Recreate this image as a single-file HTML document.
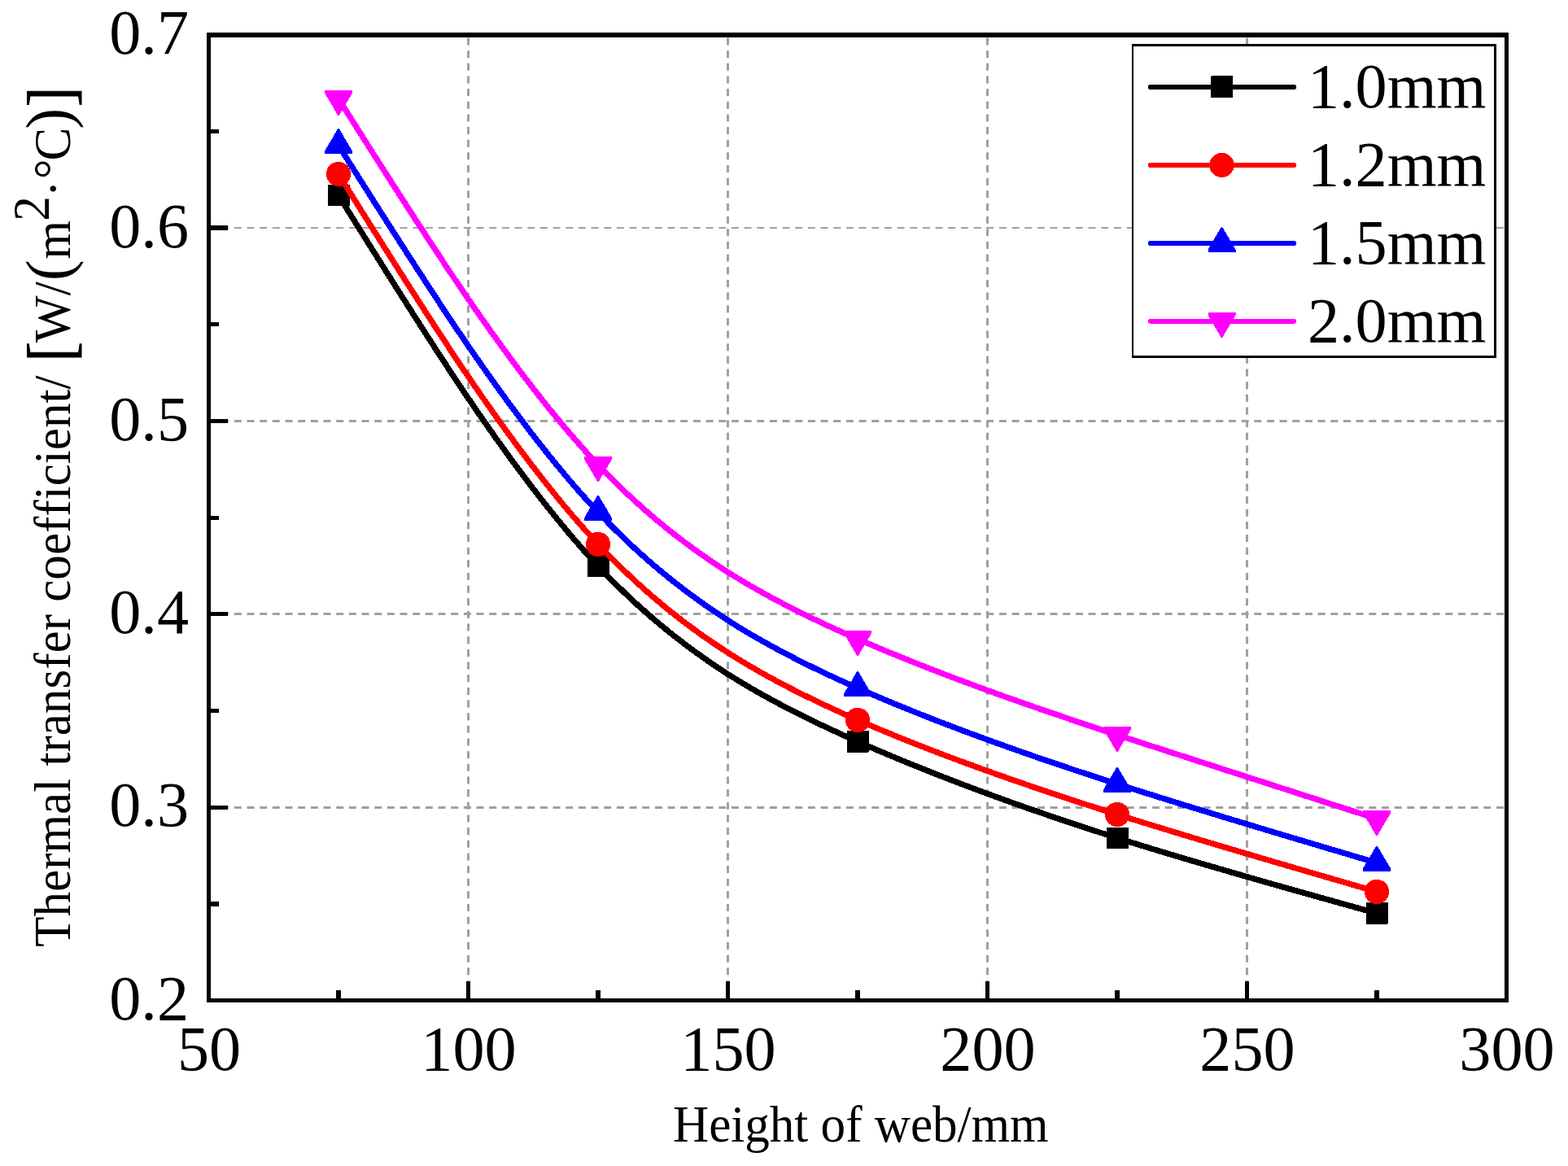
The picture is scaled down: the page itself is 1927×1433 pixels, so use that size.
<!DOCTYPE html>
<html lang="en"><head><meta charset="utf-8"><title>Thermal transfer coefficient vs height of web</title>
<style>
html,body{margin:0;padding:0;background:#fff;}
body{width:1927px;height:1433px;overflow:hidden;}
svg{display:block;}
text{font-family:"Liberation Serif","DejaVu Serif",serif;fill:#000;font-variant-ligatures:none;font-kerning:none;}
.tick{font-size:78.2px;}
.ttl{font-size:61.1px;}
.big{font-size:80px;}
.par{font-size:77.8px;}
</style></head><body>
<svg width="1927" height="1433" viewBox="0 0 1927 1433">
<rect width="1927" height="1433" fill="#fff"/>
<g stroke="#a0a0a0" fill="none">
<line x1="575.5" y1="1229.6" x2="575.5" y2="43.0" stroke-width="3" stroke-dasharray="9 6.655"/>
<line x1="894.5" y1="1229.6" x2="894.5" y2="43.0" stroke-width="3" stroke-dasharray="9 6.655"/>
<line x1="1213.5" y1="1229.6" x2="1213.5" y2="43.0" stroke-width="3" stroke-dasharray="9 6.655"/>
<line x1="1532.5" y1="1229.6" x2="1532.5" y2="43.0" stroke-width="3" stroke-dasharray="9 6.655"/>
<line x1="256.5" y1="992.5" x2="1851.5" y2="992.5" stroke-width="3" stroke-dasharray="9 6.668"/>
<line x1="256.5" y1="754.5" x2="1851.5" y2="754.5" stroke-width="3" stroke-dasharray="9 6.668"/>
<line x1="256.5" y1="517.5" x2="1851.5" y2="517.5" stroke-width="3" stroke-dasharray="9 6.668"/>
<line x1="256.5" y1="280" x2="1851.5" y2="280" stroke-width="2" stroke-dasharray="9 6.668"/>
</g>
<g fill="#000" shape-rendering="crispEdges">
<rect x="254" y="40" width="1600" height="6"/>
<rect x="254" y="1227" width="1600" height="5"/>
<rect x="254" y="40" width="5" height="1192"/>
<rect x="1849" y="40" width="5" height="1192"/>
<rect x="413" y="1217" width="6" height="10"/>
<rect x="573" y="1206" width="5" height="21"/>
<rect x="732" y="1217" width="6" height="10"/>
<rect x="892" y="1206" width="5" height="21"/>
<rect x="1051" y="1217" width="6" height="10"/>
<rect x="1211" y="1206" width="5" height="21"/>
<rect x="1370" y="1217" width="6" height="10"/>
<rect x="1530" y="1206" width="5" height="21"/>
<rect x="1689" y="1217" width="6" height="10"/>
<rect x="259" y="1108" width="10" height="6"/>
<rect x="259" y="990" width="21" height="5"/>
<rect x="259" y="871" width="10" height="5"/>
<rect x="259" y="752" width="21" height="5"/>
<rect x="259" y="634" width="10" height="5"/>
<rect x="259" y="515" width="21" height="5"/>
<rect x="259" y="396" width="10" height="5"/>
<rect x="259" y="277" width="21" height="6"/>
<rect x="259" y="159" width="10" height="5"/>
</g>
<path d="M416 240C522.33 411.17 628.67 582.34 735 695.7C841.33 809.06 947.67 864.62 1054 911.4C1160.33 958.18 1266.67 996.2 1373 1029.9C1479.33 1063.6 1585.67 1093 1692 1122.4" fill="none" stroke="#000000" stroke-width="7.2" stroke-linecap="round" stroke-linejoin="round" shape-rendering="crispEdges"/>
<rect x="402.75" y="226.75" width="27" height="26.5" rx="1" fill="#000000" shape-rendering="crispEdges"/>
<rect x="721.75" y="682.45" width="27" height="26.5" rx="1" fill="#000000" shape-rendering="crispEdges"/>
<rect x="1040.75" y="898.15" width="27" height="26.5" rx="1" fill="#000000" shape-rendering="crispEdges"/>
<rect x="1359.75" y="1016.65" width="27" height="26.5" rx="1" fill="#000000" shape-rendering="crispEdges"/>
<rect x="1678.75" y="1109.15" width="27" height="26.5" rx="1" fill="#000000" shape-rendering="crispEdges"/>
<path d="M416 214C522.33 384.71 628.67 555.42 735 668.9C841.33 782.38 947.67 838.62 1054 884.9C1160.33 931.18 1266.67 967.49 1373 1001C1479.33 1034.51 1585.67 1065.2 1692 1095.9" fill="none" stroke="#ff0000" stroke-width="7.2" stroke-linecap="round" stroke-linejoin="round" shape-rendering="crispEdges"/>
<circle cx="416" cy="214" r="15.1" fill="#ff0000" shape-rendering="crispEdges"/>
<circle cx="735" cy="668.9" r="15.1" fill="#ff0000" shape-rendering="crispEdges"/>
<circle cx="1054" cy="884.9" r="15.1" fill="#ff0000" shape-rendering="crispEdges"/>
<circle cx="1373" cy="1001" r="15.1" fill="#ff0000" shape-rendering="crispEdges"/>
<circle cx="1692" cy="1095.9" r="15.1" fill="#ff0000" shape-rendering="crispEdges"/>
<path d="M416 178.67C522.33 347.68 628.67 516.68 735 629.5C841.33 742.32 947.67 798.94 1054 845.7C1160.33 892.46 1266.67 929.36 1373 963.5C1479.33 997.64 1585.67 1029.02 1692 1060.4" fill="none" stroke="#0000ff" stroke-width="7.2" stroke-linecap="round" stroke-linejoin="round" shape-rendering="crispEdges"/>
<polygon points="399,189 433,189 433,185.6 416.7,158 415.3,158 399,185.6" fill="#0000ff" shape-rendering="crispEdges"/>
<polygon points="718,639.83 752,639.83 752,636.43 735.7,608.83 734.3,608.83 718,636.43" fill="#0000ff" shape-rendering="crispEdges"/>
<polygon points="1037,856.03 1071,856.03 1071,852.63 1054.7,825.03 1053.3,825.03 1037,852.63" fill="#0000ff" shape-rendering="crispEdges"/>
<polygon points="1356,973.83 1390,973.83 1390,970.43 1373.7,942.83 1372.3,942.83 1356,970.43" fill="#0000ff" shape-rendering="crispEdges"/>
<polygon points="1675,1070.73 1709,1070.73 1709,1067.33 1692.7,1039.73 1691.3,1039.73 1675,1067.33" fill="#0000ff" shape-rendering="crispEdges"/>
<path d="M416 121.33C522.33 290.18 628.67 459.03 735 571.3C841.33 683.57 947.67 739.27 1054 785.4C1160.33 831.53 1266.67 868.08 1373 903.3C1479.33 938.52 1585.67 972.41 1692 1006.3" fill="none" stroke="#ff00ff" stroke-width="7.2" stroke-linecap="round" stroke-linejoin="round" shape-rendering="crispEdges"/>
<polygon points="399,111 433,111 433,114.4 416.7,142 415.3,142 399,114.4" fill="#ff00ff" shape-rendering="crispEdges"/>
<polygon points="718,560.97 752,560.97 752,564.37 735.7,591.97 734.3,591.97 718,564.37" fill="#ff00ff" shape-rendering="crispEdges"/>
<polygon points="1037,775.07 1071,775.07 1071,778.47 1054.7,806.07 1053.3,806.07 1037,778.47" fill="#ff00ff" shape-rendering="crispEdges"/>
<polygon points="1356,892.97 1390,892.97 1390,896.37 1373.7,923.97 1372.3,923.97 1356,896.37" fill="#ff00ff" shape-rendering="crispEdges"/>
<polygon points="1675,995.97 1709,995.97 1709,999.37 1692.7,1026.97 1691.3,1026.97 1675,999.37" fill="#ff00ff" shape-rendering="crispEdges"/>
<path d="M1391 54H1839V440H1391Z M1393 57V437H1836V57Z" fill="#000" fill-rule="evenodd" shape-rendering="crispEdges"/>
<rect x="1393" y="57" width="443" height="380" fill="#fff" shape-rendering="crispEdges"/>
<line x1="1414" y1="107.0" x2="1590" y2="107.0" stroke="#000000" stroke-width="6.2" stroke-linecap="round" shape-rendering="crispEdges"/>
<rect x="1488.25" y="93.25" width="27" height="26.5" rx="1" fill="#000000" shape-rendering="crispEdges"/>
<text class="tick" x="1826.3" y="132.4" text-anchor="end">1.0mm</text>
<line x1="1414" y1="203.0" x2="1590" y2="203.0" stroke="#ff0000" stroke-width="6.2" stroke-linecap="round" shape-rendering="crispEdges"/>
<circle cx="1501.5" cy="202.9" r="15.1" fill="#ff0000" shape-rendering="crispEdges"/>
<text class="tick" x="1826.3" y="228.1" text-anchor="end">1.2mm</text>
<line x1="1414" y1="299.0" x2="1590" y2="299.0" stroke="#0000ff" stroke-width="6.2" stroke-linecap="round" shape-rendering="crispEdges"/>
<polygon points="1484.5,310.13 1518.5,310.13 1518.5,306.73 1502.2,279.13 1500.8,279.13 1484.5,306.73" fill="#0000ff" shape-rendering="crispEdges"/>
<text class="tick" x="1826.3" y="323.9" text-anchor="end">1.5mm</text>
<line x1="1414" y1="394.6" x2="1590" y2="394.6" stroke="#ff00ff" stroke-width="6.2" stroke-linecap="round" shape-rendering="crispEdges"/>
<polygon points="1484.5,384.07 1518.5,384.07 1518.5,387.47 1502.2,415.07 1500.8,415.07 1484.5,387.47" fill="#ff00ff" shape-rendering="crispEdges"/>
<text class="tick" x="1826.3" y="419.6" text-anchor="end">2.0mm</text>
<text class="tick" x="257" y="1315" text-anchor="middle">50</text>
<text class="tick" x="576" y="1315" text-anchor="middle">100</text>
<text class="tick" x="895" y="1315" text-anchor="middle">150</text>
<text class="tick" x="1214" y="1315" text-anchor="middle">200</text>
<text class="tick" x="1533" y="1315" text-anchor="middle">250</text>
<text class="tick" x="1852" y="1315" text-anchor="middle">300</text>
<text class="tick" x="232" y="1252.9" text-anchor="end">0.2</text>
<text class="tick" x="232" y="1015.4" text-anchor="end">0.3</text>
<text class="tick" x="232" y="777.9" text-anchor="end">0.4</text>
<text class="tick" x="232" y="541.4" text-anchor="end">0.5</text>
<text class="tick" x="232" y="303.9" text-anchor="end">0.6</text>
<text class="tick" x="232" y="66.4" text-anchor="end">0.7</text>
<text class="ttl" transform="translate(1057.8 1403.4) scale(1 1.03)" text-anchor="middle">Height of web/mm</text>
<g transform="translate(85.5 0) rotate(-90)">
<g transform="scale(1 1.03)">
<text class="ttl" x="-1163.8" y="0">Thermal transfer coefficient/</text>
<text class="ttl" x="-421" y="0">W/</text>
<text class="ttl" x="-318.6" y="0">m</text>
<text class="ttl" x="-271.8" y="-24.6">2</text>
<text class="ttl" x="-242" y="0">·</text>
<text class="ttl" x="-220" y="-0.1">°</text>
<text class="ttl" x="-197.6" y="0">C</text>
</g>
<text class="big" transform="translate(-444.6 3.4) scale(0.92 1)" stroke="#000" stroke-width="1">[</text>
<text class="par" x="-345.2" y="0.4">(</text>
<text class="par" x="-158.8" y="0.4">)</text>
<text class="big" transform="translate(-131.3 3.4) scale(0.92 1)" stroke="#000" stroke-width="1">]</text>
</g>
</svg></body></html>
